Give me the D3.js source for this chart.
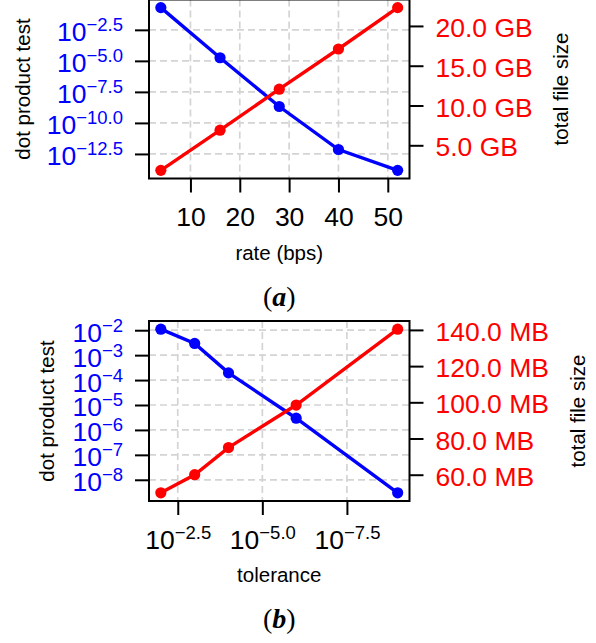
<!DOCTYPE html>
<html><head><meta charset="utf-8">
<script src="https://cdn.jsdelivr.net/npm/d3@7"></script>
<style>body{margin:0;background:#fff}svg{display:block}</style>
</head><body>
<script>
// ---- Panel (a) data ----
const rateA = [4, 16, 28, 40, 52];
const dotA = [1.95e-1, 1.78e-5, 2.1e-9, 7.2e-13, 1.5e-14];
const sizeA = [1.85, 6.9, 12.05, 17.1, 22.3]; // GB
const xTicksA = [10, 20, 30, 40, 50];
const yLeftExpA = [-2.5, -5.0, -7.5, -10.0, -12.5];
const yRightTicksA = [5, 10, 15, 20];
// ---- Panel (b) data ----
const tolB = [1e-2, 1e-3, 1e-4, 1e-6, 1e-9];
const dotB = [1.1e-2, 2.95e-3, 1.95e-4, 2.95e-6, 3.0e-9];
const sizeB = [50, 60, 75, 98.5, 140.4]; // MB
const xTickExpB = [-2.5, -5.0, -7.5];
const yLeftExpB = [-2, -3, -4, -5, -6, -7, -8];
const yRightTicksB = [60, 80, 100, 120, 140];

const W = 596, H = 643;
const FONT = "'Liberation Sans', Arial, Helvetica, sans-serif";
const TICK_FS = 26.5, SUP_FS = 18.5;
const svg = d3.select("body").append("svg").attr("width", W).attr("height", H)
  .style("font-family", FONT);

function padLin([a, b]) { const d = (b - a) * 0.05; return [a - d, b + d]; }
function padLog([a, b]) { const la = Math.log10(a), lb = Math.log10(b), d = (lb - la) * 0.05; return [10 ** (la - d), 10 ** (lb + d)]; }
const MINUS = "\u2212";
function expStr(e, dec) { return MINUS + Math.abs(e).toFixed(dec); }

function powLabel(sel, e, dec) {
  sel.text(null);
  sel.append("tspan").text("10");
  sel.append("tspan").attr("font-size", SUP_FS).attr("dy", -10).text(expStr(e, dec));
}

function panel(cfg) {
  const { x0, x1, y0, y1 } = cfg;
  const g = svg.append("g");
  const x = cfg.x, yL = cfg.yL, yR = cfg.yR;

  // grid
  const grid = g.append("g").attr("stroke", "#d4d4d4").attr("stroke-width", 1.7).attr("stroke-dasharray", "7,4").attr("fill", "none");
  cfg.xTickVals.forEach(v => grid.append("line").attr("x1", x(v)).attr("x2", x(v)).attr("y1", y0).attr("y2", y1));
  cfg.yLTickVals.forEach(v => grid.append("line").attr("x1", x0).attr("x2", x1).attr("y1", yL(v)).attr("y2", yL(v)));

  // series
  const series = [
    { xs: cfg.xs, ys: cfg.blue, scale: yL, color: "#0000ff" },
    { xs: cfg.xs, ys: cfg.red, scale: yR, color: "#ff0000" }
  ];
  series.forEach(s => {
    const pts = s.xs.map((v, i) => [x(v), s.scale(s.ys[i])]);
    g.append("path").attr("d", d3.line()(pts)).attr("fill", "none")
      .attr("stroke", s.color).attr("stroke-width", 3.4);
    g.selectAll(null).data(pts).enter().append("circle")
      .attr("cx", d => d[0]).attr("cy", d => d[1]).attr("r", 5.6).attr("fill", s.color);
  });

  // frame
  g.append("rect").attr("x", x0).attr("y", y0).attr("width", x1 - x0).attr("height", y1 - y0)
    .attr("fill", "none").attr("stroke", "#000").attr("stroke-width", 2);

  // left axis
  const la = g.append("g").attr("transform", `translate(${x0},0)`)
    .call(d3.axisLeft(yL).tickValues(cfg.yLTickVals).tickSize(14).tickSizeOuter(0));
  la.select(".domain").remove();
  la.selectAll(".tick line").attr("stroke", "#000").attr("stroke-width", 2);
  la.selectAll(".tick text").attr("x", -26).attr("dy", null).attr("y", 11)
    .attr("fill", "#0000ff").attr("font-size", TICK_FS).attr("font-family", FONT)
    .each(function (d, i) { powLabel(d3.select(this), cfg.yLExp[i], cfg.yLDec); });

  // right axis
  const ra = g.append("g").attr("transform", `translate(${x1},0)`)
    .call(d3.axisRight(yR).tickValues(cfg.yRTickVals).tickSize(14).tickSizeOuter(0)
      .tickFormat(d => d.toFixed(1) + " " + cfg.unit));
  ra.select(".domain").remove();
  ra.selectAll(".tick line").attr("stroke", "#000").attr("stroke-width", 2);
  ra.selectAll(".tick text").attr("x", 26).attr("dy", null).attr("y", 10.5)
    .attr("fill", "#ff0000").attr("font-size", TICK_FS).attr("font-family", FONT);

  // bottom axis
  const ba = g.append("g").attr("transform", `translate(0,${y1})`)
    .call(d3.axisBottom(x).tickValues(cfg.xTickVals).tickSize(14).tickSizeOuter(0).tickFormat(cfg.xFmt || (d => d)));
  ba.select(".domain").remove();
  ba.selectAll(".tick line").attr("stroke", "#000").attr("stroke-width", 2);
  ba.selectAll(".tick text").attr("y", 47.5).attr("dy", null)
    .attr("fill", "#000").attr("font-size", TICK_FS).attr("font-family", FONT);
  if (cfg.xExp) ba.selectAll(".tick text").each(function (d, i) { powLabel(d3.select(this), cfg.xExp[i], 1); });

  const cx = (x0 + x1) / 2, cy = (y0 + y1) / 2;
  g.append("text").attr("transform", `translate(${cfg.leftTitleX},${cy}) rotate(-90)`)
    .attr("text-anchor", "middle").attr("font-size", 20.5).text("dot product test");
  g.append("text").attr("transform", `translate(${cfg.rightTitleX},${cy}) rotate(-90)`)
    .attr("text-anchor", "middle").attr("font-size", 20.5).text("total file size");
  g.append("text").attr("x", cx).attr("y", y1 + 81).attr("text-anchor", "middle")
    .attr("font-size", 20.5).text(cfg.xTitle);
  const pl = g.append("text").attr("x", cx).attr("y", y1 + 127).attr("text-anchor", "middle")
    .attr("font-size", 28).attr("font-family", "'Liberation Serif', 'Times New Roman', serif");
  pl.append("tspan").text("(");
  pl.append("tspan").attr("font-style", "italic").attr("font-weight", "bold").text(cfg.tag);
  pl.append("tspan").text(")");
}

// panel a
(function () {
  const x0 = 149, x1 = 409.5, y0 = -0.5, y1 = 178.5;
  panel({
    x0, x1, y0, y1,
    x: d3.scaleLinear().domain(padLin(d3.extent(rateA))).range([x0, x1]),
    yL: d3.scaleLog().domain(padLog(d3.extent(dotA))).range([y1, y0]),
    yR: d3.scaleLinear().domain(padLin(d3.extent(sizeA))).range([y1, y0]),
    xs: rateA, blue: dotA, red: sizeA,
    xTickVals: xTicksA,
    yLTickVals: yLeftExpA.map(e => 10 ** e), yLExp: yLeftExpA, yLDec: 1,
    yRTickVals: yRightTicksA, unit: "GB",
    leftTitleX: 30, rightTitleX: 568, xTitle: "rate (bps)", tag: "a"
  });
})();

// panel b
(function () {
  const x0 = 149, x1 = 409.5, y0 = 321, y1 = 501;
  const xd = padLog(d3.extent(tolB));
  panel({
    x0, x1, y0, y1,
    x: d3.scaleLog().domain([xd[1], xd[0]]).range([x0, x1]),
    yL: d3.scaleLog().domain(padLog(d3.extent(dotB))).range([y1, y0]),
    yR: d3.scaleLinear().domain(padLin(d3.extent(sizeB))).range([y1, y0]),
    xs: tolB, blue: dotB, red: sizeB,
    xTickVals: xTickExpB.map(e => 10 ** e), xExp: xTickExpB, xFmt: d => "",
    yLTickVals: yLeftExpB.map(e => 10 ** e), yLExp: yLeftExpB, yLDec: 0,
    yRTickVals: yRightTicksB, unit: "MB",
    leftTitleX: 54, rightTitleX: 585, xTitle: "tolerance", tag: "b"
  });
})();
</script>
</body></html>
